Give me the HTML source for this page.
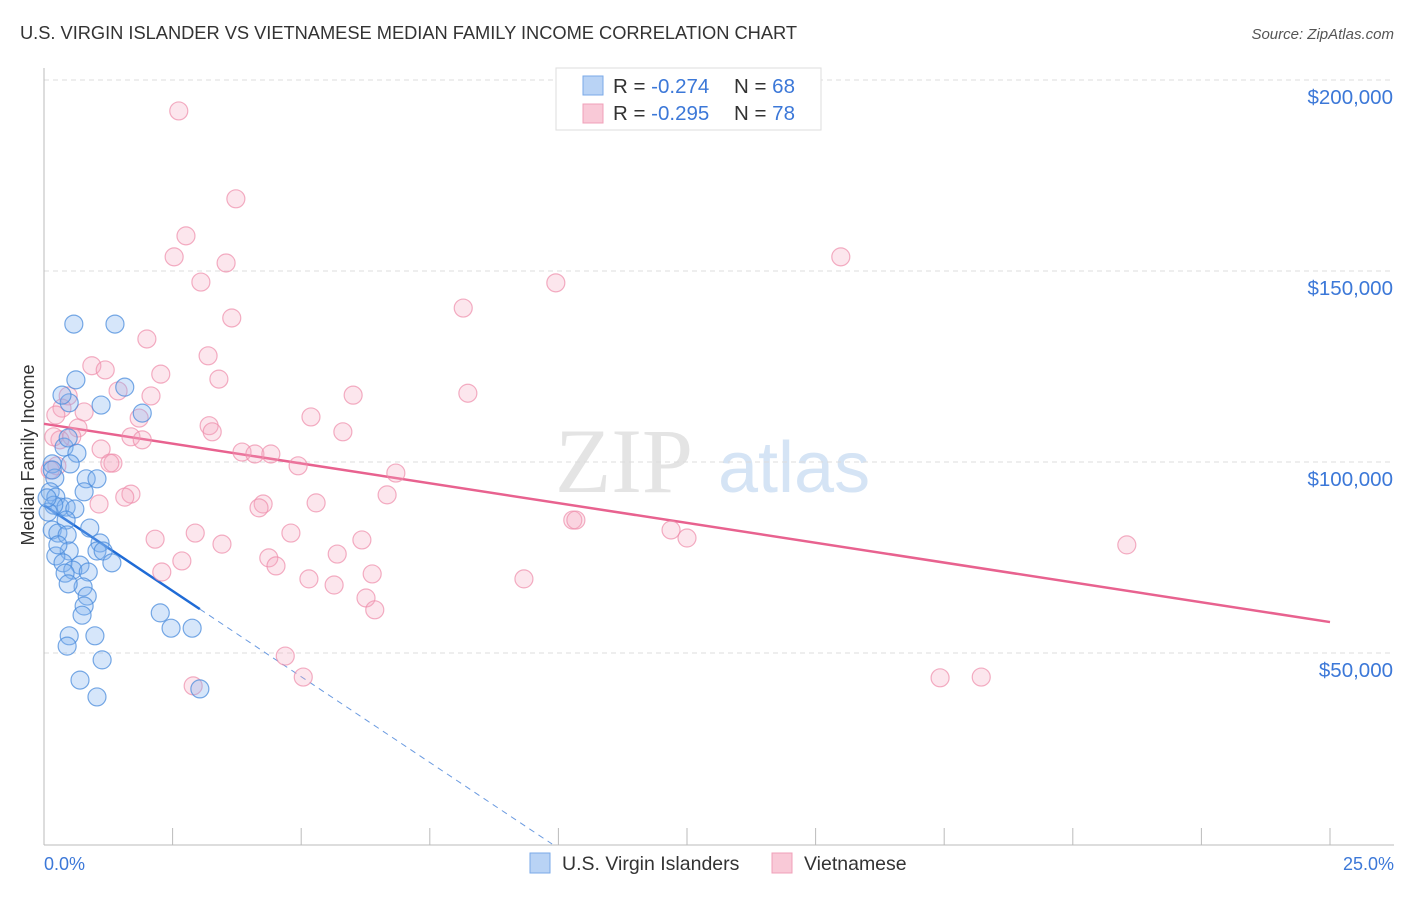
<!DOCTYPE html>
<html><head><meta charset="utf-8"><style>
body{margin:0;background:#fff;font-family:"Liberation Sans",sans-serif;}
</style></head><body>
<svg id="chart" width="1406" height="892" xmlns="http://www.w3.org/2000/svg">
<text x="20" y="39" font-size="18.3" fill="#333" textLength="777">U.S. VIRGIN ISLANDER VS VIETNAMESE MEDIAN FAMILY INCOME CORRELATION CHART</text>
<text x="1394" y="39" font-size="15" fill="#555" font-style="italic" text-anchor="end">Source: ZipAtlas.com</text>
<g><text x="555" y="492" font-size="92" fill="#e4e4e4" font-family="Liberation Serif,serif">ZIP</text><text x="718" y="492" font-size="72" fill="#d5e4f5">atlas</text></g>
<g id="grid"></g><g id="axes"></g><g id="lines"></g><g id="pts"></g>
<text transform="translate(34,455) rotate(-90)" font-size="18" fill="#333" text-anchor="middle">Median Family Income</text>
<text x="44" y="870" font-size="18" fill="#3c78d8">0.0%</text>
<text x="1394" y="870" font-size="18" fill="#3c78d8" text-anchor="end">25.0%</text>
<g>
<rect x="556" y="68" width="265" height="62" fill="#fff" stroke="#ddd"/>
<rect x="583" y="76" width="20" height="19" fill="#b9d3f5" stroke="#7aaae8"/>
<rect x="583" y="104" width="20" height="19" fill="#f9c9d7" stroke="#f0a0b8"/>
<text x="613" y="93" font-size="20.5" fill="#333">R = <tspan fill="#3c78d8">-0.274</tspan><tspan x="734">N = </tspan><tspan fill="#3c78d8">68</tspan></text>
<text x="613" y="120" font-size="20.5" fill="#333">R = <tspan fill="#3c78d8">-0.295</tspan><tspan x="734">N = </tspan><tspan fill="#3c78d8">78</tspan></text>
</g>
<g>
<rect x="530" y="853" width="20" height="20" fill="#b9d3f5" stroke="#7aaae8"/>
<text x="562" y="870" font-size="19.5" fill="#333">U.S. Virgin Islanders</text>
<rect x="772" y="853" width="20" height="20" fill="#f9c9d7" stroke="#f0a0b8"/>
<text x="804" y="870" font-size="19.5" fill="#333">Vietnamese</text>
</g>
</svg>
<script>
const yTicks=[50000,100000,150000,200000];
const yTickLabels=["$50,000","$100,000","$150,000","$200,000"];
const xTicks=[0,2.5,5,7.5,10,12.5,15,17.5,20,22.5,25];
const blueX=[0.58,1.38,0.62,1.57,1.11,1.91,0.49,0.35,0.39,0.47,0.64,0.51,0.16,0.21,0.82,1.03,0.78,0.12,0.23,0.31,0.43,0.60,0.89,0.43,0.16,0.27,0.45,1.09,1.03,1.15,0.49,0.23,0.37,1.32,0.70,0.56,0.86,0.41,0.76,0.47,0.84,0.78,0.74,2.26,2.47,2.88,0.99,0.49,0.45,1.13,0.70,1.03,3.03,0.19,0.08,0.16,0.06,0.27];
const blueY=[136.1,136.1,121.5,119.6,114.9,112.8,115.5,117.5,103.9,106.3,102.3,99.5,99.5,95.8,95.6,95.6,92.2,92.2,90.8,88.2,88.2,87.7,82.7,84.8,82.2,81.4,80.9,78.8,76.7,76.7,76.7,75.4,73.6,73.6,73.0,71.7,71.2,70.9,67.3,68.1,64.9,62.3,59.9,60.5,56.5,56.5,54.5,54.5,51.8,48.2,42.9,38.5,40.6,88.7,86.9,97.9,90.6,78.3];
const pinkX=[2.62,3.73,2.76,3.54,2.53,3.05,15.49,9.95,8.15,3.65,2.00,3.19,0.93,1.19,2.27,3.40,8.24,6.01,1.44,2.08,0.47,5.19,0.35,1.85,0.78,3.21,3.27,5.81,0.66,0.23,0.54,1.69,1.91,0.31,1.11,3.85,4.10,4.41,4.94,0.25,1.34,1.28,6.84,6.67,1.69,1.57,4.26,4.18,5.29,1.07,10.28,10.34,12.19,12.50,21.05,2.16,2.94,4.80,3.46,6.18,4.37,4.51,5.70,2.68,2.29,6.38,5.15,5.64,9.33,6.26,6.43,4.69,5.04,2.90,17.42,18.22,0.19,0.12];
const pinkY=[191.9,168.9,159.2,152.1,153.7,147.1,153.7,146.9,140.3,137.7,132.2,127.8,125.2,124.1,123.0,121.7,118.0,117.5,118.6,117.3,117.3,111.8,114.1,111.5,113.1,109.5,107.9,107.9,108.9,112.3,106.6,106.6,105.8,105.8,103.4,102.6,102.1,102.1,99.0,99.0,99.7,99.7,97.1,91.4,91.6,90.8,89.0,88.0,89.3,89.0,84.8,84.8,82.2,80.1,78.3,79.8,81.4,81.4,78.5,79.6,74.9,72.8,75.9,74.1,71.2,70.7,69.4,67.8,69.4,64.4,61.3,49.2,43.7,41.4,43.5,43.7,106.6,97.9];
const pinkTrend=[110.0,58.1];
const blueTrend=[88.7,8.98,3.03];
const NS="http://www.w3.org/2000/svg";
const X=v=>44+v/25*1286;
const Y=v=>844-v/50000*191;
function mk(p,t,a){const e=document.createElementNS(NS,t);for(const k in a)e.setAttribute(k,a[k]);document.getElementById(p).appendChild(e);return e;}
yTicks.forEach((t,i)=>{
 const g=mk('grid','line',{x1:44,x2:1394,y1:Y(t),y2:Y(t),stroke:'#ddd','stroke-dasharray':'5,4'});
 
 
 const l=mk('grid','text',{x:1393,y:Y(t)+24,'font-size':20.5,fill:'#3c78d8','text-anchor':'end'});
 l.textContent=yTickLabels[i];
 
 
});
const tg=mk('grid','line',{x1:44,x2:1394,y1:80,y2:80,stroke:'#ddd','stroke-dasharray':'5,4'});


const ax=mk('axes','line',{x1:44,x2:44,y1:68,y2:845,stroke:'#bbb'});


const bx=mk('axes','line',{x1:44,x2:1394,y1:845,y2:845,stroke:'#bbb'});


xTicks.forEach(t=>{const k=mk('axes','line',{x1:X(t),x2:X(t),y1:828,y2:845,stroke:'#bbb'});
 
 });
const pl=mk('lines','line',{x1:X(0),y1:Y(pinkTrend[0]*1000),x2:X(25),y2:Y(pinkTrend[1]*1000),stroke:'#e8628f','stroke-width':2.5});


const bEnd=blueTrend[0]/blueTrend[1];
const bl=mk('lines','line',{x1:X(0),y1:Y(blueTrend[0]*1000),x2:X(blueTrend[2]),y2:Y((blueTrend[0]-blueTrend[1]*blueTrend[2])*1000),stroke:'#1f6bd6','stroke-width':2.5});


const bd=mk('lines','line',{x1:X(blueTrend[2]),y1:Y((blueTrend[0]-blueTrend[1]*blueTrend[2])*1000),x2:X(bEnd),y2:Y(0),stroke:'#6a9ae0','stroke-width':1,'stroke-dasharray':'6,5'});


pinkX.forEach((x,i)=>{const c=mk('pts','circle',{cx:X(x),cy:Y(pinkY[i]*1000),r:9,fill:'rgba(245,165,190,0.28)',stroke:'rgba(238,140,170,0.7)','stroke-width':1.2});
 
 });
blueX.forEach((x,i)=>{const c=mk('pts','circle',{cx:X(x),cy:Y(blueY[i]*1000),r:9,fill:'rgba(130,180,240,0.33)',stroke:'rgba(75,140,220,0.75)','stroke-width':1.2});
 
 });
</script>
</body></html>
